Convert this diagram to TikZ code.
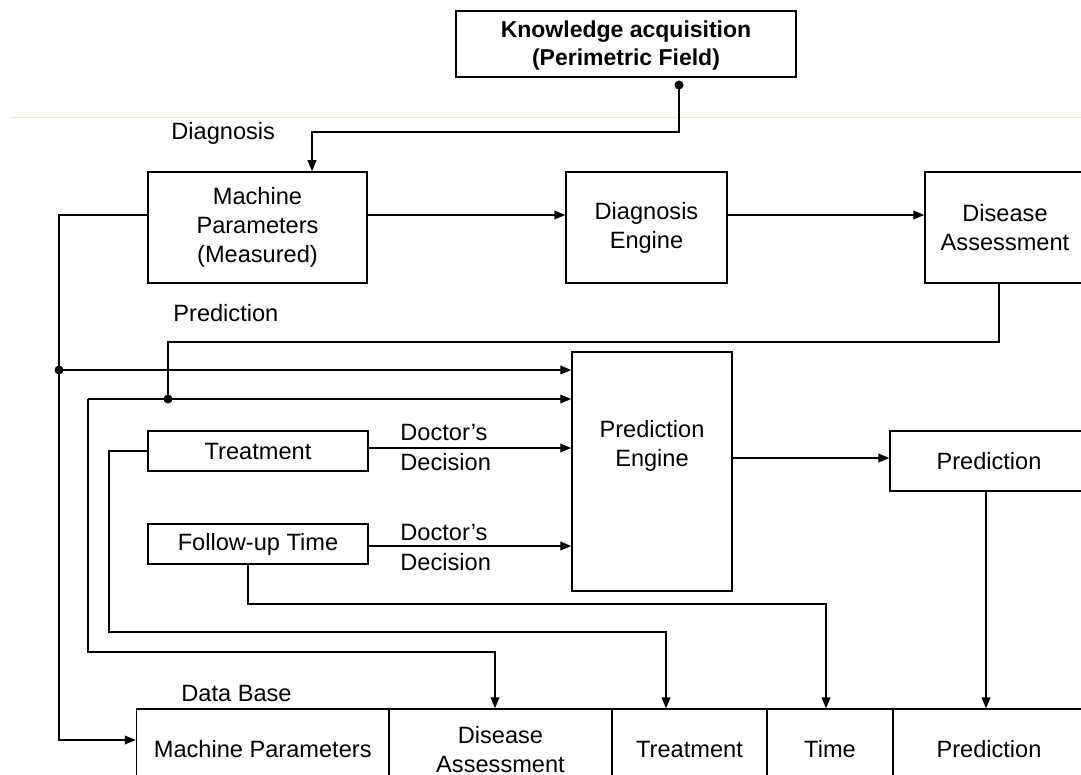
\documentclass[tikz,border=0pt]{standalone}
\usepackage{fontspec}
\setmainfont{Liberation Sans}
\usetikzlibrary{arrows.meta}
\definecolor{paleline}{HTML}{EDEDB2}
\begin{document}
\begin{tikzpicture}[x=0.5pt,y=-0.5pt,
  box/.style={draw,line width=0.75pt,inner sep=0pt,align=center,font=\fontsize{11.8}{14.5}\selectfont},
  lbl/.style={anchor=west,inner sep=0pt,align=left,font=\fontsize{11.8}{15}\selectfont},
  line/.style={line width=0.6pt},
  arr/.style={line width=0.6pt,-{Triangle[length=5.5pt,width=4.4pt]}},
  dot/.style={circle,fill,inner sep=0pt,minimum size=4.5pt}]

\useasboundingbox (0,0) rectangle (1081,775);

\draw[paleline,line width=0.5pt] (10,118) -- (1081,118);

% upper row
\node[box,minimum width=170pt,minimum height=33pt,text depth=1pt,font=\fontsize{11.5}{14}\selectfont\bfseries] (know) at (626,44) {Knowledge acquisition\\(Perimetric Field)};
\node[box,minimum width=109.5pt,minimum height=55.5pt] (mach) at (257.5,227.5) {Machine\\Parameters\\(Measured)};
\node[box,minimum width=80.5pt,minimum height=55.5pt] (diag) at (646.5,227.5) {Diagnosis\\Engine};
\node[box,minimum width=80pt,minimum height=55.5pt] (dis) at (1005,227.5) {Disease\\Assessment};

% middle
\node[box,minimum width=80pt,minimum height=119.5pt] (peng) at (652,471.5) {};
\node[align=center,inner sep=0pt,font=\fontsize{11.8}{14.5}\selectfont] (pengtext) at (652,446) {Prediction\\Engine};
\node[box,minimum width=99pt,minimum height=30pt] (pred) at (989,461) {Prediction};
\node[box,minimum width=110pt,minimum height=20pt] (treat) at (258,451) {Treatment};
\node[box,minimum width=110pt,minimum height=20pt] (fup) at (258,544) {Follow-up Time};

% data base
\node[box,minimum width=126.25pt,minimum height=40.5pt] (c1) at (262.75,749.5) {Machine Parameters};
\node[box,minimum width=111.5pt,minimum height=40.5pt] (c2) at (500.5,749.5) {Disease\\Assessment};
\node[box,minimum width=77.5pt,minimum height=40.5pt] (c3) at (689.5,749.5) {Treatment};
\node[box,minimum width=63pt,minimum height=40.5pt] (c4) at (830,749.5) {Time};
\node[box,minimum width=96pt,minimum height=40.5pt] (c5) at (989,749.5) {Prediction};

% labels
\node[lbl] (diaglbl) at (171,133) {Diagnosis};
\node[lbl] (predlbl) at (173,313) {Prediction};
\node[lbl] (dblbl) at (181,693) {Data Base};
\node[lbl] (doc1) at (400,447) {Doctor’s\\Decision};
\node[lbl] (doc2) at (400,547) {Doctor’s\\Decision};

% junctions
\node[dot] (kdot) at (679,85) {};
\node[dot] (j1) at (59,370) {};
\node[dot] (j2) at (168,399) {};
\coordinate (k1) at (88,399);

% connectors
\draw[arr] (kdot.center) -- (kdot |- 0,132) -| ([xshift=27.25pt]mach.north);
\draw[arr] (mach.east |- 0,215) -- (diag.west |- 0,215);
\draw[arr] (diag.east |- 0,215) -- (dis.west |- 0,215);
\draw[arr] (mach.west |- 0,215) -| (j1.center) |- (c1.west |- 0,740);
\draw[arr] (j1.center) -- (peng.west |- j1);
\draw[line] ([xshift=-3pt]dis.south) |- (j2 |- 0,342) -- (j2.center);
\draw[arr] (k1) -- (peng.west |- k1);
\draw[arr] (k1) |- (495,652) -- (c2.north -| 495,0);
\draw[arr] (treat.east |- 0,448) -- (peng.west |- 0,448);
\draw[arr] (fup.east |- 0,546) -- (peng.west |- 0,546);
\draw[arr] (treat.west) -| (109,632) -| (c3.north -| 666,0);
\draw[arr] (fup.south -| 248,0) |- (826,604) -- (c4.north -| 826,0);
\draw[arr] (peng.east |- 0,458) -- (pred.west |- 0,458);
\draw[arr] (pred.south -| 986,0) -- (c5.north -| 986,0);

\end{tikzpicture}
\end{document}
